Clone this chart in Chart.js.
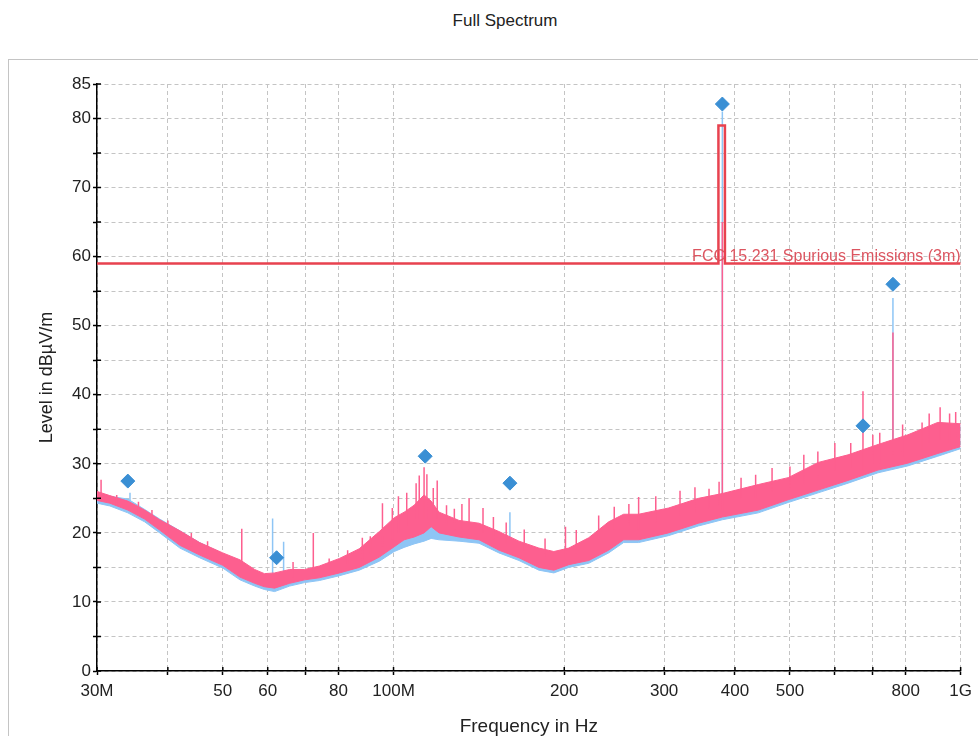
<!DOCTYPE html>
<html>
<head>
<meta charset="utf-8">
<script src="https://cdn.jsdelivr.net/npm/chart.js@4.4.1/dist/chart.umd.min.js"></script>
<style>
  html, body { margin: 0; padding: 0; background: #fff; overflow: hidden; }
  #wrap { position: relative; width: 978px; height: 736px; }
  #title { position: absolute; left: 0; top: 11px; width: 1010px; text-align: center;
           font: 17px "Liberation Sans", Arial, sans-serif; color: #222; }
  #panel { position: absolute; left: 8px; top: 59px; width: 990px; height: 700px;
           border: 1px solid #c4c4c4; }
  canvas { position: absolute; left: 0; top: 0; }
</style>
</head>
<body>
<div id="wrap">
  <div id="title">Full Spectrum</div>
  <div id="panel"></div>
  <canvas id="spectrum" width="978" height="736"></canvas>
</div>
<script>
// frequencies in MHz
const freqs    = [30, 31.6, 34, 36.4, 38.7, 42, 45.5, 50, 53.6, 56.9, 59.2, 61.7, 65.6, 69.7, 74, 80.3, 87, 94.4,
                  100.3, 104.4, 108.7, 113.2, 116.5, 120.3, 130.5, 141.5, 153.4, 166.4, 180.4, 191.7, 203.7,
                  220.9, 239.5, 254.5, 270.5, 305.4, 344.8, 380, 439.8, 496.5, 560.7, 633.1, 714.9, 807, 911.4, 1000];
const peakHigh = [26.0, 25.4, 24.6, 23.3, 21.9, 20.3, 18.6, 17.1, 16.1, 14.7, 14.1, 14.2, 14.7, 14.7, 15.2, 16.3, 17.7, 20.2,
                  22.2, 23.0, 24.0, 25.5, 24.6, 23.0, 21.8, 21.4, 20.2, 18.8, 17.8, 17.3, 17.8,
                  19.3, 21.6, 22.7, 22.7, 23.6, 25.0, 25.7, 27.0, 28.0, 30.2, 31.3, 32.8, 34.2, 36.0, 35.8];
const peakLow  = [24.7, 24.3, 23.3, 22.0, 20.4, 18.2, 16.8, 15.3, 13.6, 12.7, 12.2, 12.0, 12.7, 13.2, 13.5, 14.2, 15.0, 16.5,
                  18.0, 19.0, 19.4, 20.0, 20.9, 20.0, 19.4, 19.0, 17.5, 16.4, 15.0, 14.6, 15.4,
                  16.0, 17.5, 19.0, 19.0, 20.0, 21.4, 22.3, 23.3, 24.8, 26.2, 27.6, 29.1, 30.1, 31.5, 32.5];
const avgHigh  = [25.5, 25.3, 24.9, 23.4, 22.0, 20.3, 18.6, 17.0, 15.5, 14.3, 13.6, 13.5, 14.0, 14.2, 14.8, 15.8, 17.0, 18.8,
                  20.3, 21.0, 22.0, 23.5, 22.0, 21.0, 20.8, 20.5, 19.5, 18.3, 17.3, 17.0, 17.5,
                  19.0, 21.0, 22.3, 22.5, 23.3, 24.8, 25.3, 26.8, 27.7, 30.0, 31.0, 32.5, 34.0, 35.8, 35.5];
const avgLow   = [24.3, 23.9, 22.9, 21.6, 20.0, 17.8, 16.4, 14.9, 13.2, 12.3, 11.8, 11.5, 12.3, 12.8, 13.1, 13.8, 14.6, 15.9,
                  17.3, 17.9, 18.4, 18.8, 19.2, 19.0, 18.8, 18.5, 17.1, 16.0, 14.6, 14.2, 15.0,
                  15.6, 17.1, 18.6, 18.6, 19.6, 21.0, 21.9, 22.9, 24.4, 25.8, 27.2, 28.7, 29.7, 31.1, 32.2];

const peakSpikeFreqs = [30.5, 32.5, 35.5, 37.5, 40, 44, 47, 54.0, 66.5, 72.2, 77, 83, 88.1, 91, 95.6, 99.5, 102, 105.5,
                        109.6, 111, 113.2, 114.5, 117.5, 119.4, 124, 128, 132, 135.9, 143.8, 150, 158, 170, 185, 201,
                        210, 230, 245, 260, 270.5, 290, 320, 340, 360, 375, 380, 410, 435, 465, 500, 529, 560, 600,
                        640, 672.6, 700, 720, 759.6, 790, 855, 880, 920, 956, 980];
const peakSpikeBase  = [25, 24, 23, 22, 20, 18, 17, 15.5, 13.5, 14, 14.5, 15.5, 16, 17, 18, 19, 20, 21,
                        22, 22, 22, 22, 22, 22, 21, 20.5, 20.5, 20.5, 20, 19, 18.5, 17.5, 16.5, 16.5,
                        17, 19, 20.5, 21, 20.5, 21.5, 22.5, 23, 23.5, 24, 23, 25, 25, 26, 26.5, 27, 28, 29,
                        29.5, 29, 30, 30, 30, 31, 32, 33, 33.5, 33, 34];
const peakSpikeTop   = [27.7, 25.5, 24.5, 23.3, 21.8, 20.0, 18.8, 20.6, 15.8, 20.0, 16.3, 17.5, 19.3, 19.5, 24.3, 23.6, 25.3, 25.8,
                        27.2, 28.3, 29.5, 28.5, 26.5, 27.6, 24.0, 23.5, 24.2, 25.0, 23.6, 22.3, 21.5, 20.5, 19.2, 20.9,
                        20.4, 22.5, 23.8, 24.2, 25.2, 25.3, 26.1, 26.6, 26.4, 27.4, 65, 28.0, 28.4, 29.4, 29.6, 31.3, 31.8, 33,
                        33.0, 40.5, 34.2, 34.5, 49, 35.7, 36, 37.3, 38.2, 37.3, 37.5];

const avgSpikeFreqs = [34.3, 61.2, 64.0, 160.4, 380, 759.6];
const avgSpikeBase  = [23, 13, 13, 18, 25, 30];
const avgSpikeTop   = [25.8, 22.1, 18.7, 23.0, 81, 54];

const markerFreqs  = [34.0, 62.2, 113.7, 160.4, 380, 672.6, 759.6];
const markerLevels = [27.5, 16.4, 31.1, 27.2, 82.1, 35.5, 56.0];

const limitFreqs  = [30, 374, 374, 384, 384, 1000];
const limitLevels = [59, 59, 79, 79, 59, 59];
const limitLabel  = 'FCC 15.231 Spurious Emissions (3m)';

const xTickValues = [30, 40, 50, 60, 70, 80, 100, 200, 300, 400, 500, 600, 700, 800, 1000];
const xTickLabels = ['30M', '', '50', '60', '', '80', '100M', '200', '300', '400', '500', '', '', '800', '1G'];
const yTickValues = [0, 5, 10, 15, 20, 25, 30, 35, 40, 45, 50, 55, 60, 65, 70, 75, 80, 85];
const yTickLabels = ['0', '', '10', '', '20', '', '30', '', '40', '', '50', '', '60', '', '70', '', '80', '85'];

const FONT = '"Liberation Sans", Arial, sans-serif';
const PINK = '#fd5f8f';
const BLUE = '#8ec5f5';

const pts = (xs, ys) => xs.map((x, i) => ({ x: x, y: ys[i] }));
const spikes = (xs, lo, hi) => xs.flatMap((x, i) => [{ x: x, y: lo[i] }, { x: x, y: hi[i] }, { x: x, y: null }]);

// tick marks that cross the axis line
const crossTicks = {
  id: 'crossTicks',
  afterDraw(chart) {
    const { ctx, chartArea, scales } = chart;
    ctx.save();
    ctx.strokeStyle = '#000';
    ctx.lineWidth = 1.5;
    ctx.beginPath();
    scales.x.ticks.forEach(t => {
      const px = scales.x.getPixelForValue(t.value);
      ctx.moveTo(px, chartArea.bottom);
      ctx.lineTo(px, chartArea.bottom - 4);
    });
    scales.y.ticks.forEach(t => {
      const py = scales.y.getPixelForValue(t.value);
      ctx.moveTo(chartArea.left, py);
      ctx.lineTo(chartArea.left + 4, py);
    });
    ctx.stroke();
    ctx.restore();
  }
};

const limitText = {
  id: 'limitText',
  afterDatasetsDraw(chart) {
    const { ctx, chartArea, scales } = chart;
    ctx.save();
    ctx.font = '16px ' + FONT;
    ctx.fillStyle = '#dc5560';
    ctx.textAlign = 'right';
    ctx.textBaseline = 'bottom';
    ctx.fillText(limitLabel, chartArea.right, scales.y.getPixelForValue(limitLevels[0]) + 1);
    ctx.restore();
  }
};

new Chart(document.getElementById('spectrum'), {
  type: 'line',
  data: {
    datasets: [
      { data: pts(limitFreqs, limitLevels), borderColor: '#e8424f', borderWidth: 2.5, order: 0 },
      { data: pts(markerFreqs, markerLevels), showLine: false, pointStyle: 'rectRot', pointRadius: 7,
        pointBackgroundColor: '#3a8fd4', pointBorderColor: '#3a8fd4', order: -1 },
      { data: spikes(peakSpikeFreqs, peakSpikeBase, peakSpikeTop), borderColor: PINK, borderWidth: 1.5, spanGaps: false, order: 1 },
      { data: pts(freqs, peakLow), borderColor: PINK, borderWidth: 1, order: 2 },
      { data: pts(freqs, peakHigh), borderColor: PINK, borderWidth: 1, backgroundColor: PINK, fill: '-1', order: 2 },
      { data: spikes(avgSpikeFreqs, avgSpikeBase, avgSpikeTop), borderColor: BLUE, borderWidth: 1.5, spanGaps: false, order: 3 },
      { data: pts(freqs, avgLow), borderColor: BLUE, borderWidth: 1, order: 4 },
      { data: pts(freqs, avgHigh), borderColor: BLUE, borderWidth: 1, backgroundColor: BLUE, fill: '-1', order: 4 }
    ]
  },
  plugins: [crossTicks, limitText],
  options: {
    responsive: false,
    animation: false,
    layout: { padding: { top: 84, right: 15, left: 0, bottom: 0 } },
    elements: { point: { radius: 0 }, line: { tension: 0 } },
    plugins: { legend: { display: false }, tooltip: { enabled: false } },
    scales: {
      x: {
        type: 'logarithmic',
        min: 30,
        max: 1000,
        afterBuildTicks: s => { s.ticks = xTickValues.map(v => ({ value: v })); },
        afterFit: s => { s.height = 65; },
        ticks: { autoSkip: false, maxRotation: 0, padding: 6, color: '#222', font: { size: 17, family: FONT },
                 callback: (v, i) => xTickLabels[i] },
        grid: { color: '#c4c4c4', tickColor: '#000', tickLength: 4, tickWidth: 1.5 },
        border: { color: '#000', width: 1.5, dash: [4, 3] },
        title: { display: true, text: 'Frequency in Hz', color: '#222', font: { size: 19, family: FONT },
                 padding: { top: 0, bottom: -2 } }
      },
      y: {
        min: 0,
        max: 85,
        afterBuildTicks: s => { s.ticks = yTickValues.map(v => ({ value: v })); },
        afterFit: s => { s.width = 97; },
        ticks: { autoSkip: false, padding: 2, color: '#222', font: { size: 17, family: FONT },
                 callback: (v, i) => yTickLabels[i] },
        grid: { color: '#c4c4c4', tickColor: '#000', tickLength: 4, tickWidth: 1.5 },
        border: { color: '#000', width: 1.5, dash: [4, 3] },
        title: { display: true, text: 'Level in dBµV/m', color: '#222', font: { size: 18, family: FONT },
                 padding: { top: 36, bottom: 0 } }
      }
    }
  }
});
</script>
</body>
</html>
